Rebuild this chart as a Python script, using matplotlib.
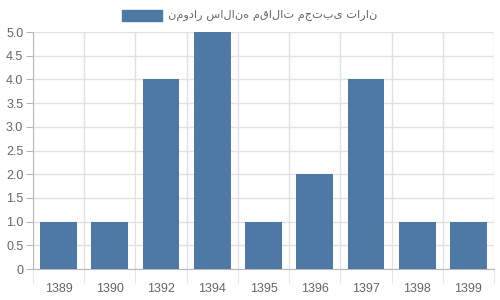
import matplotlib
matplotlib.use('Agg')
import matplotlib.pyplot as plt
from matplotlib.patches import Rectangle
import numpy as np

years = ['1389', '1390', '1392', '1394', '1395', '1396', '1397', '1398', '1399']
counts = [1, 1, 4, 5, 1, 2, 4, 1, 1]
series_label = 'نمودار سالانه مقالات مجتبی تاران'
y_ticks = [0, 0.5, 1.0, 1.5, 2.0, 2.5, 3.0, 3.5, 4.0, 4.5, 5.0]

bar_color = '#4e79a7'
grid_color = '#e2e2e2'
axis_color = '#b8b8b8'
text_color = '#666666'

fig = plt.figure(figsize=(5, 3), dpi=100)
ax = fig.add_axes([0.066, 0.1033, 0.922, 0.79])

x = np.arange(len(years))
ax.bar(x, counts, width=0.72, color=bar_color, zorder=3)

ax.set_xlim(-0.5, len(years) - 0.5)
ax.set_ylim(0, 5)

# category labels centred, grid lines on band edges
ax.set_xticks(x)
ax.set_xticklabels(years)
ax.set_xticks(np.arange(len(years) + 1) - 0.5, minor=True)
ax.tick_params(axis='x', which='major', length=0, pad=10,
               labelsize=9, labelcolor=text_color)
ax.tick_params(axis='x', which='minor', length=10, color=grid_color)
ax.grid(axis='x', which='minor', color=grid_color, lw=1)

ax.set_yticks(y_ticks)
ax.set_yticklabels(['0' if v == 0 else f'{v:.1f}' for v in y_ticks])
ax.tick_params(axis='y', length=5, color=axis_color, labelsize=9,
               labelcolor=text_color, pad=2)
ax.grid(axis='y', color=grid_color, lw=1)
ax.set_axisbelow(True)

for side in ['top', 'right']:
    ax.spines[side].set_visible(False)
for side in ['left', 'bottom']:
    ax.spines[side].set_color(axis_color)

for lbl in ax.get_xticklabels() + ax.get_yticklabels():
    lbl.set_family('Liberation Sans')

# legend at the top
fig.patches.append(Rectangle((122 / 500, 1 - 21 / 300), 40 / 500, 11 / 300,
                             transform=fig.transFigure, color=bar_color))
fig.text(168 / 500, 1 - 15.5 / 300, series_label, color=text_color,
         fontsize=8.2, ha='left', va='center', family='DejaVu Sans')

fig.savefig('out.png', dpi=100)
